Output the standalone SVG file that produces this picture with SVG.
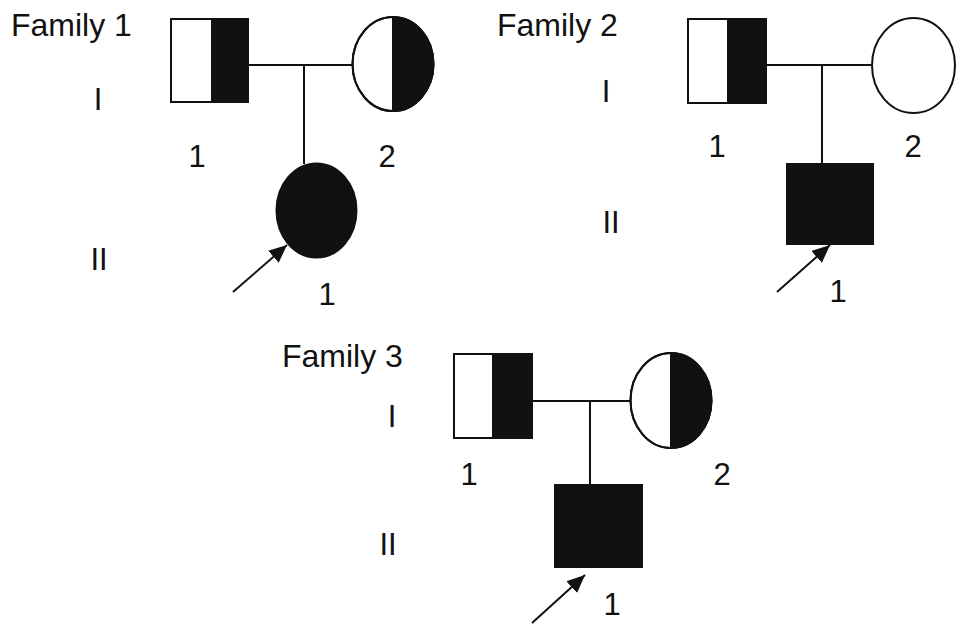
<svg xmlns="http://www.w3.org/2000/svg" width="969" height="637" viewBox="0 0 969 637">
<style>
text{font-family:"Liberation Sans",Arial,sans-serif;font-size:31px;fill:#111;text-anchor:middle}
.fam{text-anchor:start;font-size:32px}
.o{fill:#fff;stroke:#111;stroke-width:2}
.f{fill:#111;stroke:#111;stroke-width:2}
.h{fill:#111;stroke:none}
.ln{stroke:#111;stroke-width:2;fill:none}
</style>
<defs>
<marker id="ah" markerUnits="userSpaceOnUse" markerWidth="20" markerHeight="16" refX="18" refY="8" orient="auto">
<path d="M0,0 L18,8 L0,16 Z" fill="#111"/>
</marker>
</defs>
<rect width="969" height="637" fill="#fff"/>

<g id="labels">
<text class="fam" x="11" y="36">Family 1</text>
<text class="fam" x="497" y="36">Family 2</text>
<text class="fam" x="282" y="367">Family 3</text>
<text x="98" y="110">I</text>
<text x="99" y="270">II</text>
<text x="606" y="102">I</text>
<text x="611" y="233">II</text>
<text x="392" y="427">I</text>
<text x="388" y="555">II</text>
</g>

<g id="connectors">
<path class="ln" d="M248,65 H353 M304,65 V164"/>
<path class="ln" d="M766,65 H872 M822,65 V164"/>
<path class="ln" d="M532,401 H632 M590,401 V485"/>
<line class="ln" x1="233" y1="292" x2="287" y2="245" marker-end="url(#ah)"/>
<line class="ln" x1="777" y1="292" x2="830" y2="245" marker-end="url(#ah)"/>
<line class="ln" x1="532" y1="623" x2="585" y2="575" marker-end="url(#ah)"/>
</g>

<g id="f1-I-1">
<rect class="o" x="171" y="19" width="77" height="83"/>
<rect class="h" x="211" y="19" width="37" height="83"/>
<rect x="171" y="19" width="77" height="83" fill="none" stroke="#111" stroke-width="2"/>
<text x="197" y="167">1</text>
</g>
<g id="f1-I-2">
<ellipse class="o" cx="393" cy="64" rx="40.5" ry="47"/>
<path class="h" d="M393,17 A40.5,47 0 0 1 393,111 Z"/>
<ellipse cx="393" cy="64" rx="40.5" ry="47" fill="none" stroke="#111" stroke-width="2"/>
<line class="ln" x1="393" y1="17" x2="393" y2="111"/>
<text x="387" y="167">2</text>
</g>
<g id="f1-II-1">
<ellipse class="f" cx="316.5" cy="210.5" rx="40" ry="47"/>
<text x="327" y="305">1</text>
</g>

<g id="f2-I-1">
<rect class="o" x="688" y="19" width="78" height="84"/>
<rect class="h" x="727" y="19" width="39" height="84"/>
<rect x="688" y="19" width="78" height="84" fill="none" stroke="#111" stroke-width="2"/>
<text x="717" y="157">1</text>
</g>
<g id="f2-I-2">
<ellipse class="o" cx="913.5" cy="65.5" rx="41.5" ry="47.5"/>
<text x="913" y="157">2</text>
</g>
<g id="f2-II-1">
<rect class="f" x="787" y="164" width="86" height="80"/>
<text x="838" y="302">1</text>
</g>

<g id="f3-I-1">
<rect class="o" x="454" y="354" width="78" height="84"/>
<rect class="h" x="492" y="354" width="40" height="84"/>
<rect x="454" y="354" width="78" height="84" fill="none" stroke="#111" stroke-width="2"/>
<text x="469" y="485">1</text>
</g>
<g id="f3-I-2">
<ellipse class="o" cx="671" cy="400.5" rx="40.5" ry="47.5"/>
<path class="h" d="M671,353 A40.5,47.5 0 0 1 671,448 Z"/>
<ellipse cx="671" cy="400.5" rx="40.5" ry="47.5" fill="none" stroke="#111" stroke-width="2"/>
<line class="ln" x1="671" y1="353" x2="671" y2="448"/>
<text x="722" y="485">2</text>
</g>
<g id="f3-II-1">
<rect class="f" x="555" y="485" width="87" height="82"/>
<text x="612" y="615">1</text>
</g>
</svg>
